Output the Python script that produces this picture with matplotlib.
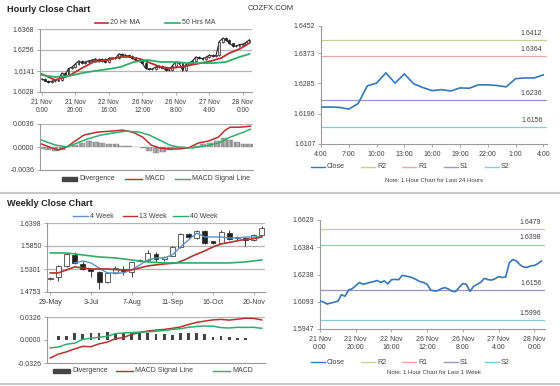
import matplotlib
matplotlib.use('Agg')
import matplotlib.pyplot as plt
from matplotlib.lines import Line2D
from matplotlib.patches import Rectangle
import numpy as np

plt.rcParams['font.family'] = ['Liberation Sans', 'DejaVu Sans']

W, H = 560, 386

# ---------------- data ----------------
# hourly close for the last week, every 2 hours (h = hours since 21 Nov 0:00)
week_hours = list(range(0, 125, 2))
week_close = [1.6098, 1.6090, 1.6080, 1.6086, 1.6090, 1.6095, 1.6130, 1.6122, 1.6155, 1.6162,
              1.6178, 1.6195, 1.6186, 1.6190, 1.6196, 1.6200, 1.6206, 1.6196, 1.6204, 1.6188,
              1.6210, 1.6212, 1.6210, 1.6233, 1.6230, 1.6226, 1.6220, 1.6210, 1.6200, 1.6195,
              1.6185, 1.6155, 1.6150, 1.6152, 1.6163, 1.6168, 1.6160, 1.6148, 1.6147, 1.6170,
              1.6190, 1.6185, 1.6148, 1.6175, 1.6185, 1.6196, 1.6217, 1.6211, 1.6208, 1.6215,
              1.6227, 1.6222, 1.6225, 1.6300, 1.6318, 1.6310, 1.6290, 1.6278, 1.6276, 1.6284,
              1.6286, 1.6296, 1.6310]
ma20_h = [0, 8, 16, 24, 31, 40, 47, 53, 59, 65, 71, 77, 83, 89, 95, 101, 107, 112, 118, 124]
ma20_v = [1.6125, 1.6093, 1.6114, 1.6157, 1.6190, 1.6201, 1.6217, 1.6217, 1.6206, 1.6184,
          1.6163, 1.6157, 1.6163, 1.6174, 1.6184, 1.6195, 1.6211, 1.6238, 1.6260, 1.6292]
ma50_h = [0, 8, 16, 24, 31, 40, 47, 55, 63, 71, 79, 87, 95, 102, 110, 118, 124]
ma50_v = [1.6120, 1.6109, 1.6114, 1.6130, 1.6141, 1.6152, 1.6163, 1.6190, 1.6201, 1.6190,
          1.6190, 1.6184, 1.6184, 1.6184, 1.6190, 1.6217, 1.6233]
hourly_xlabels = ['21 Nov\n0:00', '21 Nov\n20:00', '22 Nov\n16:00', '26 Nov\n12:00',
                  '26 Nov\n8:00', '27 Nov\n4:00', '28 Nov\n0:00']

macd_h = [0, 6, 10, 15, 19, 25, 33, 41, 48, 54, 60, 65, 70, 76, 81, 87, 93, 99, 105, 109, 112, 118, 124]
macd_v = [0.00047, -0.00016, -0.00047, 0.0, 0.00078, 0.00186, 0.00233, 0.00248, 0.00264, 0.00233,
          0.00155, 0.00031, -0.00016, -0.00031, -0.00031, -0.00016, 0.00062, 0.00093, 0.00155,
          0.00264, 0.0031, 0.0031, 0.00326]
sig_h = [0, 8, 15, 21, 27, 35, 42, 50, 58, 64, 70, 76, 81, 89, 97, 105, 112, 120, 124]
sig_v = [0.00109, 0.00031, 0.0, 0.00062, 0.00124, 0.00186, 0.00217, 0.00248, 0.00233, 0.00186,
         0.00109, 0.00031, 0.0, -0.00016, 0.00016, 0.00062, 0.00155, 0.00233, 0.00279]
div_h = list(range(0, 125, 4))
div_v = [-0.0003, -0.0005, -0.0006, -0.0004, 0.0, 0.0003, 0.0007, 0.0009, 0.0008, 0.0007,
         0.0005, 0.0004, 0.0002, 0.0001, 0.0, -0.0002, -0.0006, -0.0009, -0.0008, -0.0005,
         -0.0002, -0.0001, 0.0, 0.0002, 0.0004, 0.0006, 0.0010, 0.0014, 0.0011, 0.0008,
         0.0005, 0.0004]

# last 24 hours
day_close = [1.6215, 1.6215, 1.6214, 1.6209, 1.6225, 1.6277, 1.6285, 1.6315, 1.6285, 1.6312,
             1.6283, 1.6272, 1.6263, 1.6266, 1.6262, 1.6271, 1.6270, 1.6280, 1.6280, 1.6278,
             1.6274, 1.6298, 1.6300, 1.6300, 1.6309]
day_xlabels = ['4:00', '7:00', '10:00', '13:00', '16:00', '19:00', '22:00', '1:00', '4:00']
day_levels = {'R2': 1.6412, 'R1': 1.6364, 'S1': 1.6236, 'S2': 1.6156}
week_levels = {'R2': 1.6479, 'R1': 1.6398, 'S1': 1.6156, 'S2': 1.5996}
week_ytick_labels = ['1.5947', '1.6093', '1.6238', '1.6384', '1.6629']

# weekly candles
wk_open = [1.5070, 1.5113, 1.5375, 1.5637, 1.5423, 1.5300, 1.5230, 1.4990, 1.5210, 1.5310,
           1.5220, 1.5490, 1.5510, 1.5660, 1.5530, 1.5620, 1.5830, 1.6140, 1.6040, 1.6210,
           1.5960, 1.5930, 1.6170, 1.6030, 1.6050, 1.6000, 1.6120]
wk_close = [1.5090, 1.5375, 1.5661, 1.5446, 1.5304, 1.5260, 1.4990, 1.5210, 1.5330, 1.5250,
            1.5460, 1.5500, 1.5680, 1.5530, 1.5590, 1.5830, 1.6140, 1.6070, 1.6210, 1.5920,
            1.5930, 1.6190, 1.6020, 1.6070, 1.6000, 1.6120, 1.6280]
wk_high = [1.5110, 1.5400, 1.5680, 1.5709, 1.5490, 1.5310, 1.5250, 1.5230, 1.5370, 1.5380,
           1.5480, 1.5530, 1.5750, 1.5700, 1.5620, 1.5850, 1.6170, 1.6160, 1.6240, 1.6240,
           1.5970, 1.6230, 1.6220, 1.6090, 1.6070, 1.6140, 1.6320]
wk_low = [1.5050, 1.5018, 1.5360, 1.5420, 1.5280, 1.5120, 1.4830, 1.4970, 1.5190, 1.5170,
          1.5110, 1.5460, 1.5460, 1.5480, 1.5500, 1.5600, 1.5810, 1.6030, 1.6020, 1.5900,
          1.5900, 1.5910, 1.6000, 1.6000, 1.5840, 1.5980, 1.6100]
wk_xlabels = ['29-May', '3-Jul', '7-Aug', '11-Sep', '16-Oct', '20-Nov']
ma4_w = [3, 4, 5, 6, 7, 8, 9, 10, 11, 12, 13, 14, 15, 16, 17, 18, 19, 20, 21, 22, 23, 24, 25, 26]
ma4_v = [1.5446, 1.5494, 1.5446, 1.5327, 1.5208, 1.5208, 1.5208, 1.5279, 1.5398, 1.5517,
         1.5565, 1.5565, 1.5636, 1.5827, 1.5993, 1.6160, 1.6065, 1.6065, 1.6065, 1.6041,
         1.6041, 1.6065, 1.6065, 1.6065]
ma13_w = [0, 1, 2, 3, 4, 5, 6, 7, 8.5, 10, 11, 12, 13, 14, 15.5, 16.5, 17.5, 18.7, 20, 21, 22.3, 23.5, 24.8, 26]
ma13_v = [1.5208, 1.5208, 1.5279, 1.5351, 1.5327, 1.5303, 1.5303, 1.5303, 1.5279, 1.5279,
          1.5327, 1.5375, 1.5398, 1.5422, 1.5446, 1.5517, 1.5613, 1.5708, 1.5827, 1.5898,
          1.5946, 1.5993, 1.6017, 1.6065]
ma40_w = [0, 2, 4, 6, 8, 10, 12, 14, 16, 18, 20, 22, 24, 26]
ma40_v = [1.5684, 1.5684, 1.5636, 1.5589, 1.5565, 1.5517, 1.5470, 1.5446, 1.5446, 1.5446,
          1.5446, 1.5446, 1.5470, 1.5517]
wk_signal = [-0.0255, -0.0200, -0.0168, -0.0126, -0.0090, -0.0095, -0.0055, -0.0030, 0.0018,
             0.0035, 0.0080, 0.0105, 0.0128, 0.0140, 0.0150, 0.0165, 0.0185, 0.0220, 0.0250,
             0.0268, 0.0285, 0.0292, 0.0282, 0.0295, 0.0308, 0.0306, 0.0285]
wk_macd = [-0.0112, -0.0100, -0.0060, -0.0045, 0.0010, 0.0025, 0.0040, 0.0050, 0.0090, 0.0100,
           0.0105, 0.0112, 0.0115, 0.0125, 0.0135, 0.0150, 0.0160, 0.0180, 0.0192, 0.0198,
           0.0196, 0.0175, 0.0170, 0.0180, 0.0178, 0.0180, 0.0165]
wk_div = [0.0006, 0.0061, 0.0061, 0.0093, 0.0079, 0.0103, 0.0093, 0.0107, 0.0093, 0.0103,
          0.0107, 0.0103, 0.0093, 0.0079, 0.0079, 0.0070, 0.0093, 0.0103, 0.0093, 0.0079,
          0.0047, 0.0056, 0.0047, 0.0033, 0.0033, 0.0006, 0.0006]

RED = '#b8312f'
GREEN = '#2eae6a'
BLUE = '#3478b8'
LBLUE = '#5b93c8'
GRID = '#b4b4b4'
AXC = '#9a9a9a'
TXT = '#404040'
LV_COL = {'R2': '#c9cf94', 'R1': '#e8a8a8', 'S1': '#9c95c6', 'S2': '#86c9d8'}

fig = plt.figure(figsize=(W / 100, H / 100), dpi=100)


def fx(x):
    return x / W


def fy(y):
    return 1 - y / H


def ax_at(l, t, r, b):
    ax = fig.add_axes([fx(l), fy(b), (r - l) / W, (b - t) / H])
    for s in ['top', 'right']:
        ax.spines[s].set_visible(False)
    for s in ['left', 'bottom']:
        ax.spines[s].set_color(AXC)
        ax.spines[s].set_linewidth(0.8)
    ax.tick_params(labelsize=5, colors=TXT, length=2, width=0.6, pad=2)
    ax.tick_params(color=AXC)
    ax.patch.set_alpha(0)
    return ax


def ftext(x, y, s, **kw):
    kw.setdefault('fontsize', 5)
    kw.setdefault('color', TXT)
    kw.setdefault('va', 'center')
    fig.text(fx(x), fy(y), s, **kw)


def fline(x0, x1, y, color, lw=1.0):
    fig.add_artist(Line2D([fx(x0), fx(x1)], [fy(y), fy(y)], color=color, lw=lw,
                          transform=fig.transFigure))


def frect(x0, x1, y, h, color):
    fig.add_artist(Rectangle((fx(x0), fy(y + h / 2)), (x1 - x0) / W, h / H, color=color,
                             transform=fig.transFigure))


def hgrid(ax, vals):
    for v in vals:
        ax.axhline(v, color=GRID, lw=0.9, zorder=0)


# ---------------- titles / separators ----------------
ftext(7, 9, 'Hourly Close Chart', fontsize=6.6, fontweight='bold', color='#222222')
ftext(7, 203, 'Weekly Close Chart', fontsize=6.6, fontweight='bold', color='#222222')
ftext(248, 9, 'COZFX.COM', fontsize=5.6, color='#333333')
fline(0, 560, 193, '#c8c8c8', lw=1.5)
fline(0, 560, 384, '#c8c8c8', lw=1.5)

# ---------------- hourly price (top-left) ----------------
ax = ax_at(40, 29, 252, 92)
ax.set_xlim(-1, 125.5)
ax.set_ylim(1.6028, 1.6368)
yt = [1.6028, 1.6141, 1.6256, 1.6368]
ax.set_yticks(yt, ['%.4f' % v for v in yt])
hgrid(ax, yt[1:])
ax.set_xticks(range(0, 121, 20), hourly_xlabels)
ax.tick_params(axis='x', labelsize=4.8, pad=3)
ax.plot(week_hours, week_close, color='#222222', lw=0.8, zorder=2)
prev = week_close[0]
for h, c in zip(week_hours, week_close):
    lo, hi = min(prev, c), max(prev, c)
    ax.vlines(h, lo - 0.0005, hi + 0.0005, color='#222222', lw=0.6, zorder=2)
    ax.add_patch(Rectangle((h - 0.55, lo), 1.1, max(hi - lo, 0.0002),
                           facecolor='#dddddd' if c >= prev else '#222222',
                           edgecolor='#222222', lw=0.5, zorder=3))
    prev = c
ax.plot(ma20_h, ma20_v, color=RED, lw=1.3, zorder=4)
ax.plot(ma50_h, ma50_v, color=GREEN, lw=1.3, zorder=4)
fline(95, 108, 23, RED, 1.2)
ftext(110, 23, '20 Hr MA')
fline(165, 180, 23, GREEN, 1.2)
ftext(182, 23, '50 Hrs MA')

# ---------------- hourly MACD ----------------
ax = ax_at(40, 124, 253, 170)
ax.set_xlim(-1, 125.5)
ax.set_ylim(-0.0036, 0.0036)
ax.set_yticks([-0.0036, 0, 0.0036], ['-0.0036', '0.0000', '0.0036'])
ax.set_xticks([])
hgrid(ax, [0.0036])
ax.bar(div_h, div_v, width=3.6, color='#b0b0b0', edgecolor='#8a8a8a', lw=0.3, hatch='||||', zorder=1)
ax.plot(macd_h, macd_v, color=RED, lw=1.1, zorder=3)
ax.plot(sig_h, sig_v, color=GREEN, lw=1.1, zorder=3)
frect(62, 77, 179, 3.5, '#444444')
ftext(79, 179, 'Divergence')
fline(125, 142, 179, RED, 1.0)
ftext(144, 179, 'MACD')
fline(175, 190, 179, GREEN, 1.0)
ftext(192, 179, 'MACD Signal Line')

# ---------------- last 24 hours (top-right) ----------------
ax = ax_at(321, 26, 547, 144)
ax.set_xlim(0, 24.4)
ax.set_ylim(1.6107, 1.6452)
yt = [1.6107, 1.6196, 1.6285, 1.6373, 1.6452]
ax.set_yticks(yt, ['%.4f' % v for v in yt])
ax.set_xticks(range(0, 25, 3), day_xlabels)
ax.tick_params(axis='x', labelsize=5, pad=3)
for k, v in day_levels.items():
    ax.axhline(v, color=LV_COL[k], lw=0.9, zorder=1)
    ax.text(23.9, v + 0.0009, '%.4f' % v, fontsize=5, color=TXT, ha='right', va='bottom')
ax.plot(range(len(day_close)), day_close, color=BLUE, lw=1.2, zorder=3)
lx = [(325, 'Close', BLUE), (375, 'R2', LV_COL['R2']), (416, 'R1', LV_COL['R1']),
      (458, 'S1', LV_COL['S1']), (499, 'S2', LV_COL['S2'])]
for x0, name, col in lx:
    fline(x0 - 14, x0, 167, col, 1.0)
    ftext(x0 + 2, 167, name)
ftext(434, 180, 'Note: 1 Hour Chart for Last 24 Hours', fontsize=4.3, ha='center')

# ---------------- weekly candles (bottom-left) ----------------
ax = ax_at(47, 223, 265, 292)
ax.set_xlim(-0.4, 26.4)
ax.set_ylim(1.4753, 1.6398)
yt = [1.4753, 1.5301, 1.5850, 1.6398]
ax.set_yticks(yt, ['%.4f' % v for v in yt])
hgrid(ax, yt[1:])
ax.set_xticks(range(0, 26, 5), wk_xlabels)
ax.tick_params(axis='x', labelsize=5, pad=3)
for i in range(len(wk_open)):
    o, c = wk_open[i], wk_close[i]
    ax.vlines(i, wk_low[i], wk_high[i], color='#222222', lw=0.6, zorder=2)
    ax.add_patch(Rectangle((i - 0.3, min(o, c)), 0.6, max(abs(c - o), 0.0015),
                           facecolor='white' if c >= o else '#222222',
                           edgecolor='#222222', lw=0.5, zorder=3))
ax.plot(ma4_w, ma4_v, color=LBLUE, lw=1.0, zorder=4)
ax.plot(ma13_w, ma13_v, color=RED, lw=1.2, zorder=4)
ax.plot(ma40_w, ma40_v, color=GREEN, lw=1.2, zorder=4)
fline(73, 88, 216, LBLUE, 1.0)
ftext(90, 216, '4 Week')
fline(123, 137, 216, RED, 1.0)
ftext(139, 216, '13 Week')
fline(173, 188, 216, GREEN, 1.0)
ftext(190, 216, '40 Week')

# ---------------- weekly MACD ----------------
ax = ax_at(47, 317, 265, 363)
ax.set_xlim(-0.4, 26.4)
ax.set_ylim(-0.0326, 0.0326)
ax.set_yticks([-0.0326, 0, 0.0326], ['-0.0326', '0.0000', '0.0326'])
ax.set_xticks([])
hgrid(ax, [0.0326])
ax.bar(range(len(wk_div)), wk_div, width=0.35, color='#444444', zorder=1)
ax.plot(range(len(wk_signal)), wk_signal, color=RED, lw=1.1, zorder=3)
ax.plot(range(len(wk_macd)), wk_macd, color=GREEN, lw=1.1, zorder=3)
frect(53, 70, 371, 3.5, '#444444')
ftext(72, 371, 'Divergence')
fline(116, 133, 371, RED, 1.0)
ftext(135, 371, 'MACD Signal Line')
fline(213, 230, 371, GREEN, 1.0)
ftext(232, 371, 'MACD')

# ---------------- last week (bottom-right) ----------------
ax = ax_at(320, 220, 545, 329)
ax.set_xlim(0, 126)
yt = [1.5947, 1.6093, 1.6238, 1.6384, 1.6529]
ax.set_ylim(yt[0], yt[-1])
ax.set_yticks(yt, week_ytick_labels)
ax.set_xticks(range(0, 121, 20), hourly_xlabels)
ax.tick_params(axis='x', labelsize=5, pad=3)
for k, v in week_levels.items():
    ax.axhline(v, color=LV_COL[k], lw=0.9, zorder=1)
    ax.text(124, v + 0.0017, '%.4f' % v, fontsize=5, color=TXT, ha='right', va='bottom')
ax.plot(week_hours, week_close, color=BLUE, lw=1.2, zorder=3)
for x0, name, col in [(325, 'Close', BLUE), (375, 'R2', LV_COL['R2']), (416, 'R1', LV_COL['R1']),
                      (458, 'S1', LV_COL['S1']), (499, 'S2', LV_COL['S2'])]:
    fline(x0 - 14, x0, 362, col, 1.0)
    ftext(x0 + 2, 362, name)
ftext(434, 373, 'Note: 1 Hour Chart for Last 1 Week', fontsize=4.3, ha='center')

fig.savefig('out.png', dpi=100)
